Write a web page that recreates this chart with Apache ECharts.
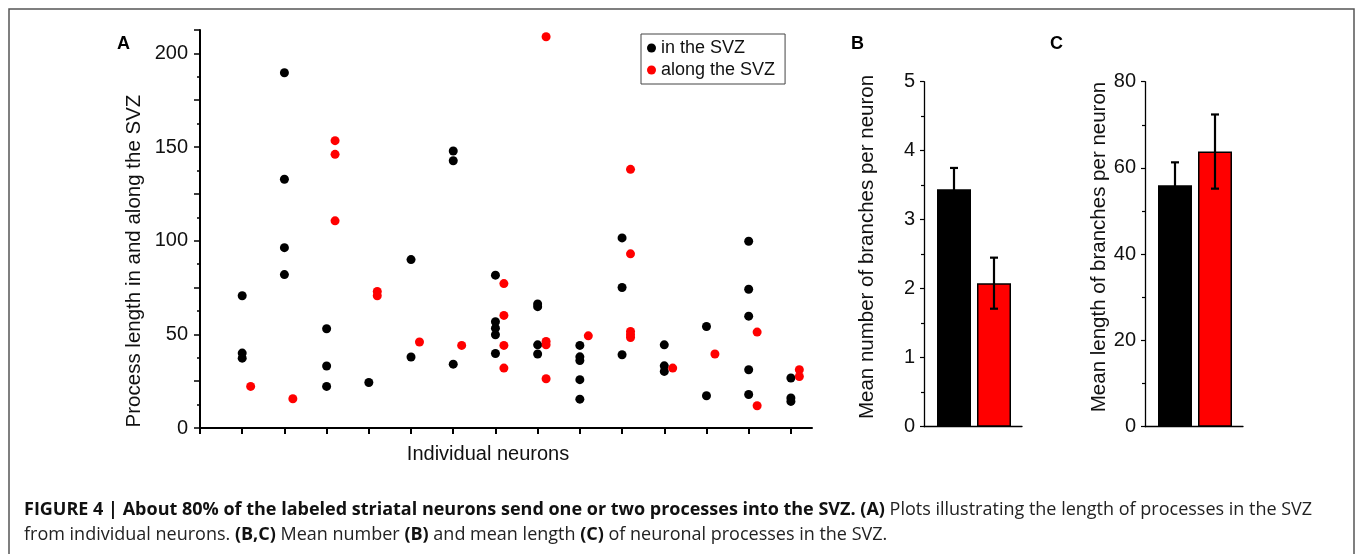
<!DOCTYPE html>
<html>
<head>
<meta charset="utf-8">
<script src="https://cdn.jsdelivr.net/npm/echarts@6/dist/echarts.min.js"></script>
<style>
html,body{margin:0;padding:0;background:#fff;}
#c{width:1356px;height:554px;}
</style>
</head>
<body>
<div id="c"></div>
<script>
// ---- Panel A data: process lengths per neuron (neuron index 1..14) ----
const neuronIdx = [1,2,3,4,5,6,7,8,9,10,11,12,13,14];
const inSVZ = [
  [70.6, 40.0, 37.3],
  [189.7, 132.8, 96.3, 81.9],
  [53.0, 33.1, 22.2],
  [24.3],
  [89.9, 37.9],
  [147.9, 142.7, 34.1],
  [81.6, 56.7, 53.3, 49.8, 39.8],
  [66.2, 64.8, 44.4, 39.5],
  [44.1, 38.0, 36.0, 25.8, 15.4],
  [101.5, 75.0, 39.1],
  [44.4, 33.2, 30.2],
  [54.2, 17.2],
  [99.7, 74.1, 59.7, 31.1, 17.9],
  [26.7, 16.0, 14.2]
];
const alongSVZ = [
  [22.2],
  [15.6],
  [153.4, 146.1, 110.6],
  [72.9, 70.6],
  [45.9],
  [44.1],
  [77.1, 60.1, 44.1, 32.0],
  [208.9, 46.2, 44.4, 26.3],
  [49.2],
  [138.1, 93.0, 51.5, 49.8, 48.3],
  [32.0],
  [39.5],
  [51.2, 11.9],
  [31.1, 27.5]
];
const alongOffset = 0.2;
const seriesNames = ['in the SVZ', 'along the SVZ'];
const xTicksA = [0,1,2,3,4,5,6,7,8,9,10,11,12,13,14];

// ---- Panels B and C: means and errors (black = in, red = along) ----
const barPos = [1, 2];
const meanBranches = [3.44, 2.08];
const errBranches = [0.31, 0.37];
const meanLength = [56.0, 63.8];
const errLength = [5.3, 8.6];
const barColors = ['#000000', '#ff0000'];

const ptsIn = [], ptsAlong = [];
neuronIdx.forEach((n, i) => {
  inSVZ[i].forEach(v => ptsIn.push([n, v]));
  alongSVZ[i].forEach(v => ptsAlong.push([n + alongOffset, v]));
});

function barData(means) {
  return means.map((m, i) => ({ value: [barPos[i], m], itemStyle: { color: barColors[i] } }));
}
function errData(means, errs) {
  return means.map((m, i) => [barPos[i], m - errs[i], m + errs[i]]);
}
function errRender(params, api) {
  const x = api.value(0);
  const lo = api.coord([x, api.value(1)]);
  const hi = api.coord([x, api.value(2)]);
  const cw = 4;
  const st = { stroke: '#000', lineWidth: 2.2 };
  return { type: 'group', children: [
    { type: 'line', shape: { x1: lo[0], y1: lo[1], x2: hi[0], y2: hi[1] }, style: st },
    { type: 'line', shape: { x1: hi[0]-cw, y1: hi[1], x2: hi[0]+cw, y2: hi[1] }, style: st },
    { type: 'line', shape: { x1: lo[0]-cw, y1: lo[1], x2: lo[0]+cw, y2: lo[1] }, style: st }
  ]};
}

const FONT = 'Liberation Sans, Arial, Helvetica, sans-serif';
const CAPFONT = 'Open Sans, DejaVu Sans, sans-serif';
const CAPSIZE = 18;
const tickLabel = { color: '#111', fontSize: 20, fontFamily: FONT };
function vTitle(text, x, y) {
  return { type: 'text', x: x, y: y, rotation: Math.PI / 2,
    style: { text: text, fontSize: 20.5, fill: '#111', fontFamily: FONT, align: 'center', verticalAlign: 'middle' } };
}
const capRich = {
  b: { fontWeight: 'bold', fontSize: CAPSIZE, fontFamily: CAPFONT, fill: '#111' },
  n: { fontSize: CAPSIZE, fontFamily: CAPFONT, fill: '#222' }
};

const chart = echarts.init(document.getElementById('c'), null, { renderer: 'canvas' });
chart.setOption({
  animation: false,
  backgroundColor: '#ffffff',
  grid: [
    { left: 200, top: 30, width: 612, height: 398 },
    { left: 924, top: 81.7, width: 98, height: 345 },
    { left: 1145, top: 81.7, width: 98, height: 345 }
  ],
  legend: {
    data: seriesNames,
    orient: 'vertical',
    left: 641, top: 34,
    icon: 'circle',
    itemWidth: 9, itemHeight: 9, itemGap: 4, itemTextGap: 4,
    padding: [5, 10, 5, 6],
    borderColor: '#444', borderWidth: 1,
    textStyle: { fontSize: 18, color: '#111', fontFamily: FONT }
  },
  xAxis: [
    { gridIndex: 0, type: 'value', min: 0, max: 14.5,
      axisLine: { lineStyle: { color: '#000', width: 2 } },
      axisTick: { show: true, customValues: xTicksA, length: 6, lineStyle: { color: '#000', width: 2 } },
      axisLabel: { show: false },
      splitLine: { show: false } },
    { gridIndex: 1, type: 'value', min: 0.25, max: 2.7,
      axisLine: { lineStyle: { color: '#000', width: 1.3 } },
      axisTick: { show: false }, axisLabel: { show: false }, splitLine: { show: false } },
    { gridIndex: 2, type: 'value', min: 0.25, max: 2.7,
      axisLine: { lineStyle: { color: '#000', width: 1.3 } },
      axisTick: { show: false }, axisLabel: { show: false }, splitLine: { show: false } }
  ],
  yAxis: [
    { gridIndex: 0, type: 'value', min: 0, max: 212.5, interval: 25,
      axisLine: { show: true, lineStyle: { color: '#000', width: 2 } },
      axisTick: { show: true, length: 6, lineStyle: { color: '#000', width: 1.5 } },
      minorTick: { show: true, splitNumber: 2, length: 3, lineStyle: { color: '#000', width: 1.5 } },
      axisLabel: Object.assign({ margin: 12, formatter: v => (v % 50 === 0 ? String(v) : '') }, tickLabel),
      splitLine: { show: false } },
    { gridIndex: 1, type: 'value', min: 0, max: 5, interval: 1,
      axisLine: { show: true, lineStyle: { color: '#000', width: 1.3 } },
      axisTick: { show: true, length: 4, lineStyle: { color: '#000', width: 1.2 } },
      minorTick: { show: true, splitNumber: 2, length: 3, lineStyle: { color: '#000', width: 1.2 } },
      axisLabel: Object.assign({ margin: 9 }, tickLabel),
      splitLine: { show: false } },
    { gridIndex: 2, type: 'value', min: 0, max: 80, interval: 20,
      axisLine: { show: true, lineStyle: { color: '#000', width: 1.3 } },
      axisTick: { show: true, length: 4, lineStyle: { color: '#000', width: 1.2 } },
      minorTick: { show: true, splitNumber: 2, length: 3, lineStyle: { color: '#000', width: 1.2 } },
      axisLabel: Object.assign({ margin: 9 }, tickLabel),
      splitLine: { show: false } }
  ],
  series: [
    { name: seriesNames[0], type: 'scatter', xAxisIndex: 0, yAxisIndex: 0,
      symbol: 'circle', symbolSize: 9, itemStyle: { color: '#000', opacity: 1 }, data: ptsIn, z: 3 },
    { name: seriesNames[1], type: 'scatter', xAxisIndex: 0, yAxisIndex: 0,
      symbol: 'circle', symbolSize: 9, itemStyle: { color: '#ff0000', opacity: 1 }, data: ptsAlong, z: 4 },
    { type: 'bar', xAxisIndex: 1, yAxisIndex: 1, barWidth: 34,
      itemStyle: { borderColor: '#000', borderWidth: 1.5 }, data: barData(meanBranches) },
    { type: 'custom', xAxisIndex: 1, yAxisIndex: 1, renderItem: errRender,
      data: errData(meanBranches, errBranches), z: 5 },
    { type: 'bar', xAxisIndex: 2, yAxisIndex: 2, barWidth: 34,
      itemStyle: { borderColor: '#000', borderWidth: 1.5 }, data: barData(meanLength) },
    { type: 'custom', xAxisIndex: 2, yAxisIndex: 2, renderItem: errRender,
      data: errData(meanLength, errLength), z: 5 }
  ],
  graphic: [
    { type: 'rect', silent: true, z: -10, shape: { x: 9, y: 9, width: 1345, height: 560 },
      style: { fill: 'none', stroke: '#555', lineWidth: 1.5 } },
    { type: 'text', left: 117, top: 35, style: { text: 'A', fontSize: 18, fontWeight: 'bold', fill: '#000', fontFamily: FONT } },
    { type: 'text', left: 851, top: 35, style: { text: 'B', fontSize: 18, fontWeight: 'bold', fill: '#000', fontFamily: FONT } },
    { type: 'text', left: 1050, top: 35, style: { text: 'C', fontSize: 18, fontWeight: 'bold', fill: '#000', fontFamily: FONT } },
    vTitle('Process length in and along the SVZ', 134, 261),
    vTitle('Mean number of branches per neuron', 867, 247),
    vTitle('Mean length of branches per neuron', 1099, 247),
    { type: 'text', x: 488, y: 454, style: { text: 'Individual neurons', fontSize: 20, fill: '#111', fontFamily: FONT, align: 'center', verticalAlign: 'middle' } },
    { type: 'text', x: 24, y: 510, style: {
        text: '{b|FIGURE 4 | About 80% of the labeled striatal neurons send one or two processes into the SVZ. (A)}{n| Plots illustrating the length of processes in the SVZ}',
        verticalAlign: 'middle', fontFamily: CAPFONT, fontSize: CAPSIZE, fill: '#111', rich: capRich } },
    { type: 'text', x: 24, y: 535, style: {
        text: '{n|from individual neurons. }{b|(B,C)}{n| Mean number }{b|(B)}{n| and mean length }{b|(C)}{n| of neuronal processes in the SVZ.}',
        verticalAlign: 'middle', fontFamily: CAPFONT, fontSize: CAPSIZE, fill: '#111', rich: capRich } }
  ]
});
</script>
</body>
</html>
